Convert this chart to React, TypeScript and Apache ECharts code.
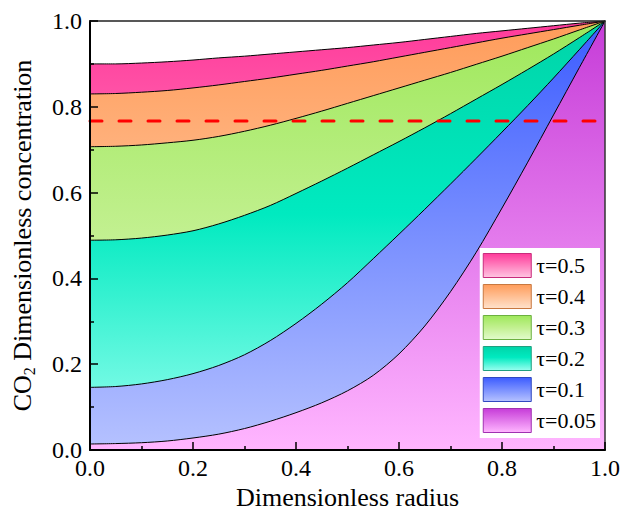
import React, { useEffect, useRef } from 'react';
import * as echarts from 'echarts';

// ---- data ----
const radius = [0, 0.05, 0.1, 0.15, 0.2, 0.25, 0.3, 0.35, 0.4, 0.45, 0.5, 0.55, 0.6, 0.65, 0.7, 0.75, 0.8, 0.85, 0.9, 0.95, 1.0];
const tau05 = [0.900, 0.900, 0.902, 0.905, 0.909, 0.914, 0.918, 0.923, 0.928, 0.933, 0.938, 0.944, 0.950, 0.957, 0.964, 0.971, 0.977, 0.983, 0.989, 0.995, 1.0];
const tau04 = [0.830, 0.831, 0.834, 0.838, 0.844, 0.851, 0.859, 0.867, 0.876, 0.885, 0.895, 0.905, 0.916, 0.927, 0.938, 0.949, 0.960, 0.970, 0.980, 0.990, 1.0];
const tau03 = [0.707, 0.708, 0.711, 0.716, 0.722, 0.731, 0.743, 0.757, 0.773, 0.790, 0.808, 0.826, 0.844, 0.862, 0.880, 0.899, 0.918, 0.938, 0.958, 0.979, 1.0];
const tau02 = [0.489, 0.490, 0.494, 0.501, 0.511, 0.527, 0.547, 0.570, 0.598, 0.627, 0.657, 0.688, 0.719, 0.751, 0.784, 0.818, 0.852, 0.887, 0.923, 0.961, 1.0];
const tau01 = [0.146, 0.148, 0.154, 0.164, 0.178, 0.197, 0.222, 0.255, 0.295, 0.340, 0.390, 0.446, 0.503, 0.561, 0.620, 0.680, 0.741, 0.803, 0.867, 0.933, 1.0];
const tau005 = [0.014, 0.015, 0.017, 0.021, 0.028, 0.037, 0.050, 0.067, 0.087, 0.110, 0.138, 0.174, 0.224, 0.289, 0.369, 0.461, 0.564, 0.671, 0.781, 0.891, 1.0];
const seriesNames = ['τ=0.5', 'τ=0.4', 'τ=0.3', 'τ=0.2', 'τ=0.1', 'τ=0.05'];
const thresholdLevel = 0.767;
const axisMin = 0;
const axisMax = 1;
const axisStep = 0.2;

const FONT = "'Liberation Serif', 'Times New Roman', serif";
const PLOT_TOP = 21;
const PLOT_BOTTOM = 450;

type Stop = [number, string];
const styles: { stops: Stop[]; border: string }[] = [
  { stops: [[0, '#ff3a9a'], [1, '#ffc6e2']], border: '#c82c7c' },
  { stops: [[0, '#ff9c5a'], [1, '#ffe2cc']], border: '#c87840' },
  { stops: [[0, '#9ee85a'], [0.5, '#c2f090'], [1, '#e2fbcc']], border: '#6cb040' },
  { stops: [[0, '#00d4a8'], [0.45, '#00eac0'], [1, '#9afff0']], border: '#20a080' },
  { stops: [[0, '#3c5cff'], [1, '#b6c2ff']], border: '#3048c0' },
  { stops: [[0, '#c63cd8'], [1, '#ffb6ff']], border: '#a030b0' },
];

function globalGrad(stops: Stop[]) {
  return new echarts.graphic.LinearGradient(
    0, PLOT_TOP, 0, PLOT_BOTTOM,
    stops.map(([offset, color]) => ({ offset, color })),
    true
  );
}
function localGrad(stops: Stop[]) {
  return new echarts.graphic.LinearGradient(
    0, 0, 0, 1,
    stops.map(([offset, color]) => ({ offset, color }))
  );
}

export default function App() {
  const ref = useRef<HTMLDivElement>(null);
  useEffect(() => {
    if (!ref.current) return;
    const chart = echarts.init(ref.current, undefined, { renderer: 'svg' });
    const curves = [tau05, tau04, tau03, tau02, tau01, tau005];
    const series: any[] = curves.map((vals, k) => ({
      name: seriesNames[k],
      type: 'line',
      data: radius.map((r, i) => [r, vals[i]]),
      smooth: 0.3,
      showSymbol: false,
      symbol: 'none',
      silent: true,
      z: 2,
      lineStyle: { color: '#000', width: 1 },
      itemStyle: { color: styles[k].stops[0][1] },
      areaStyle: { color: globalGrad(styles[k].stops), opacity: 1 },
    }));
    series.push({
      name: 'threshold',
      type: 'line',
      data: [[axisMin, thresholdLevel], [axisMax, thresholdLevel]],
      showSymbol: false,
      symbol: 'none',
      silent: true,
      z: 5,
      lineStyle: { color: '#ff0000', width: 3, type: [12, 17], cap: 'round' },
    });

    const tickStyle = { color: '#000', width: 1.5 };
    chart.setOption({
      animation: false,
      grid: { left: 90, right: 19, top: PLOT_TOP, bottom: 517 - PLOT_BOTTOM, containLabel: false },
      legend: {
        orient: 'vertical',
        right: 24,
        top: 248,
        backgroundColor: '#ffffff',
        padding: [5, 4, 5, 3],
        itemGap: 6,
        itemWidth: 48,
        itemHeight: 24,
        selectedMode: false,
        textStyle: { fontFamily: FONT, fontSize: 22, color: '#000' },
        data: seriesNames.map((n, k) => ({
          name: n,
          icon: 'rect',
          itemStyle: { color: localGrad(styles[k].stops), borderColor: styles[k].border, borderWidth: 1 },
        })),
      },
      xAxis: [
        {
          type: 'value', min: axisMin, max: axisMax, interval: axisStep, z: 10,
          axisLine: { show: true, onZero: false, lineStyle: { color: '#000', width: 2 } },
          axisTick: { show: true, inside: true, length: 8, lineStyle: tickStyle },
          minorTick: { show: true, splitNumber: 2, length: 4, lineStyle: tickStyle },
          splitLine: { show: false },
          axisLabel: { fontFamily: FONT, fontSize: 24, color: '#000', margin: 6, formatter: (v: number) => v.toFixed(1) },
          name: 'Dimensionless radius',
          nameLocation: 'middle',
          nameGap: 32,
          nameTextStyle: { fontFamily: FONT, fontSize: 26, color: '#000' },
        },
        {
          type: 'value', position: 'top', min: axisMin, max: axisMax, z: 10,
          axisLine: { show: true, onZero: false, lineStyle: { color: '#222', width: 1.5 } },
          axisTick: { show: false }, axisLabel: { show: false }, splitLine: { show: false },
        },
      ],
      yAxis: [
        {
          type: 'value', min: axisMin, max: axisMax, interval: axisStep, z: 10,
          axisLine: { show: true, onZero: false, lineStyle: { color: '#000', width: 2 } },
          axisTick: { show: true, inside: true, length: 8, lineStyle: tickStyle },
          minorTick: { show: true, splitNumber: 2, length: 4, lineStyle: tickStyle },
          splitLine: { show: false },
          axisLabel: { fontFamily: FONT, fontSize: 24, color: '#000', margin: 8, formatter: (v: number) => v.toFixed(1) },
          name: '{a|CO}{s|2}{a| Dimensionless concentration}',
          nameLocation: 'middle',
          nameGap: 53,
          nameTextStyle: {
            fontFamily: FONT, fontSize: 26, color: '#000',
            rich: {
              a: { fontFamily: FONT, fontSize: 26, color: '#000', lineHeight: 30 },
              s: { fontFamily: FONT, fontSize: 16, color: '#000', lineHeight: 16, verticalAlign: 'bottom' },
            },
          },
        },
        {
          type: 'value', position: 'right', min: axisMin, max: axisMax, z: 10,
          axisLine: { show: true, onZero: false, lineStyle: { color: '#333', width: 1.5 } },
          axisTick: { show: false }, axisLabel: { show: false }, splitLine: { show: false },
        },
      ],
      series,
    });
    return () => chart.dispose();
  }, []);
  return <div ref={ref} style={{ position: 'absolute', left: 0, top: 0, width: 624, height: 517, background: '#fff' }} />;
}
